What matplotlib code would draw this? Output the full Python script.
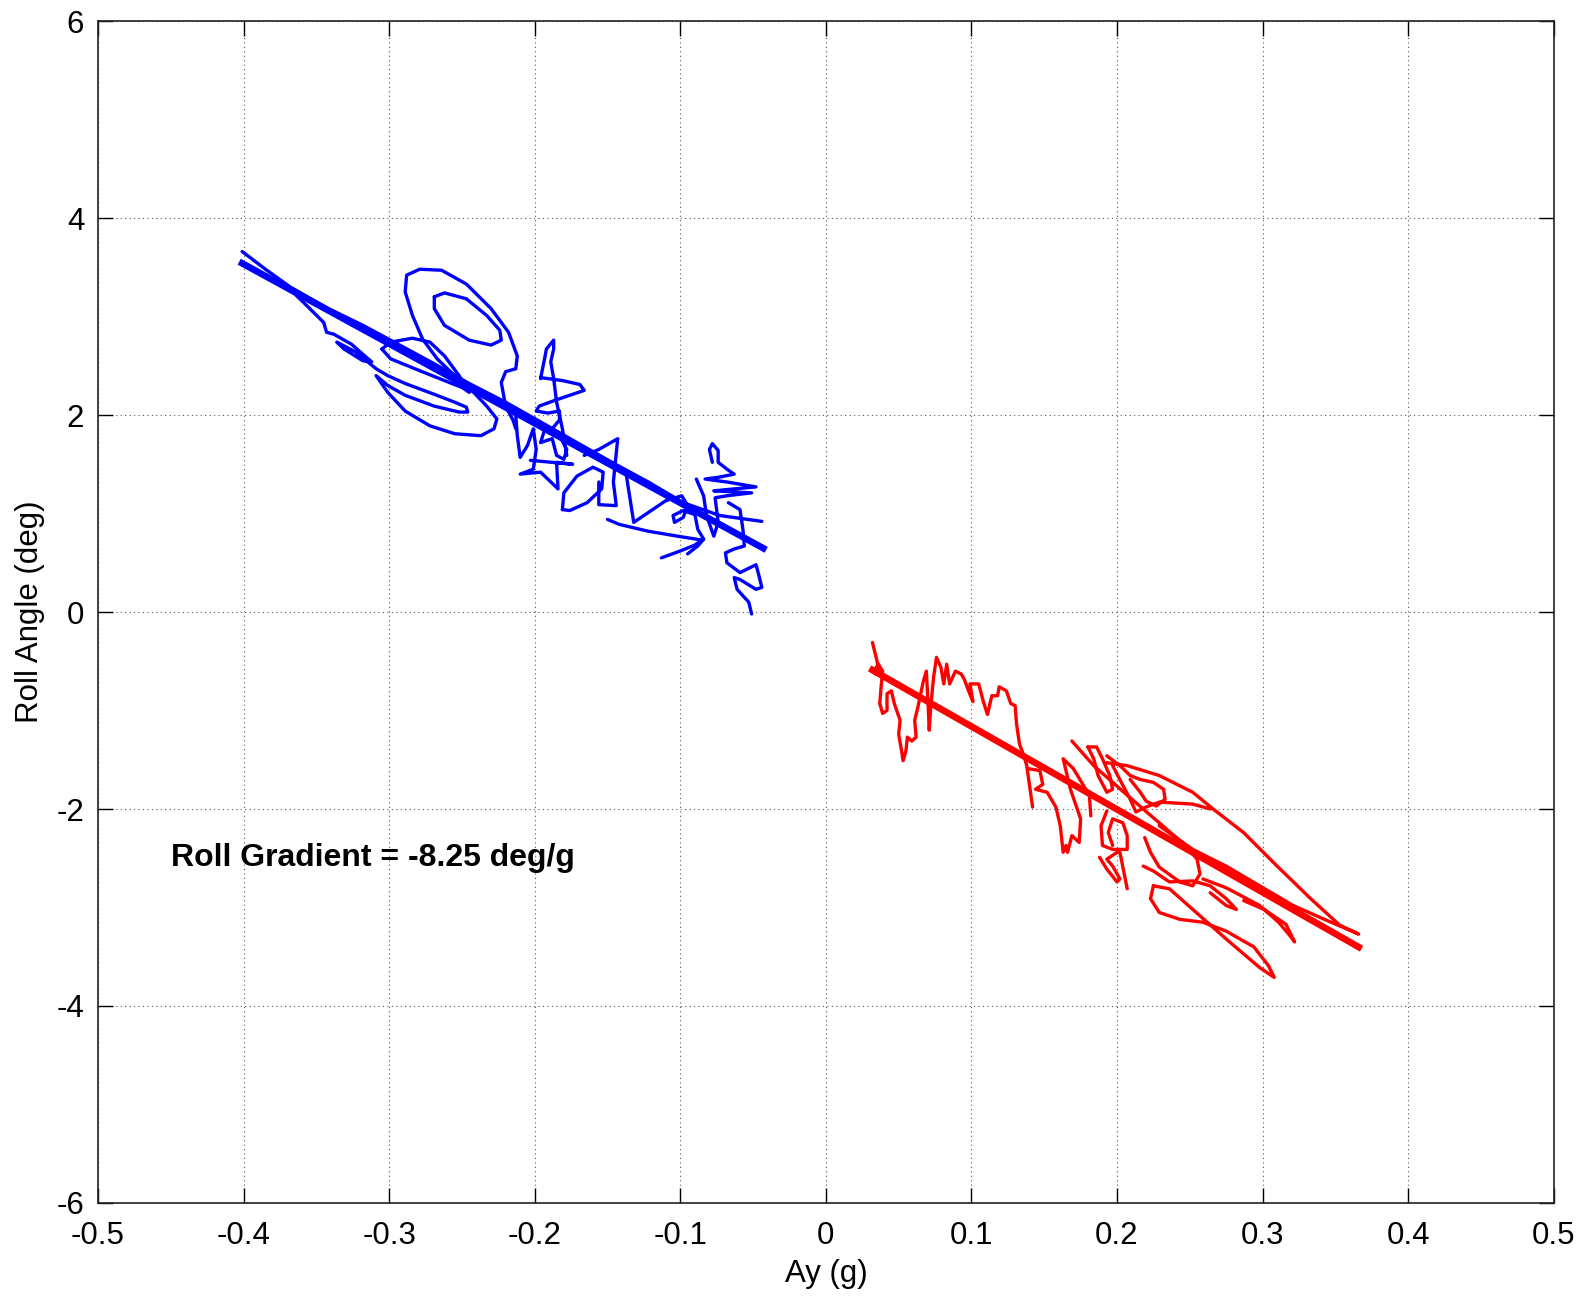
import numpy as np
import matplotlib
matplotlib.use("Agg")
import matplotlib.pyplot as plt

plt.rcParams['font.family'] = ['Liberation Sans', 'DejaVu Sans']
plt.rcParams['axes.unicode_minus'] = False

nan = np.nan

# left-turn trace (Ay in g, roll in deg), strokes split by nan
blue_ay = [
    -0.401, -0.385, -0.368, -0.343, -0.318, -0.294, -0.269, -0.245, -0.220, -0.196, -0.171, -0.147, -0.122, -0.098, -0.073, -0.044, nan,
    -0.372, -0.360, -0.345, -0.343, -0.338, -0.326, -0.316, -0.312, -0.318, -0.331, -0.336, -0.323, -0.309, -0.301, -0.289, -0.269,
    -0.255, -0.247, -0.246, -0.252, -0.269, -0.289, -0.301, -0.309, -0.301, -0.289, -0.272, -0.255, -0.237, -0.228, -0.226, -0.233,
    -0.242, -0.255, -0.267, -0.277, -0.284, -0.289, -0.288, -0.279, -0.264, -0.247, -0.230, -0.218, -0.212, -0.213, -0.220, -0.223,
    -0.220, -0.215, -0.213, nan,
    -0.269, -0.262, -0.247, -0.233, -0.224, -0.223, -0.230, -0.245, -0.262, -0.269, -0.269, nan,
    -0.305, -0.299, -0.284, -0.272, -0.262, -0.252, -0.245, -0.250, -0.257, -0.279, -0.299, -0.305, nan,
    -0.196, -0.193, -0.192, -0.187, -0.187, -0.189, -0.187, -0.185, -0.181, -0.178, nan,
    -0.196, -0.181, -0.169, -0.166, -0.174, -0.186, -0.197, -0.199, -0.191, -0.183, -0.183, -0.188, -0.193, -0.196, -0.188, -0.185,
    -0.180, -0.178, -0.183, nan,
    -0.213, -0.212, -0.210, -0.205, -0.201, -0.199, -0.201, -0.210, -0.196, -0.184, -0.185, -0.174, -0.203, nan,
    -0.181, -0.180, -0.171, -0.160, -0.153, -0.154, -0.164, -0.176, -0.181, nan,
    -0.156, -0.156, -0.144, -0.146, -0.143, -0.156, -0.166, nan,
    -0.150, -0.142, -0.122, -0.102, -0.085, -0.090, -0.100, -0.113, nan,
    -0.095, -0.088, -0.084, nan,
    -0.137, -0.132, -0.122, -0.110, -0.099, -0.095, -0.098, -0.104, -0.105, -0.098, -0.090, -0.088, -0.084, nan,
    -0.089, -0.084, -0.082, -0.077, -0.074, -0.076, nan,
    -0.078, -0.080, -0.078, -0.074, -0.074, -0.068, -0.063, -0.073, -0.083, -0.068, -0.048, -0.063, -0.077, -0.051, -0.068, -0.076, nan,
    -0.067, -0.059, -0.057, -0.056, -0.063, -0.069, -0.068, -0.059, -0.048, -0.046, -0.044, -0.048, -0.059, -0.063, -0.061, -0.053, -0.051,
]
blue_roll = [
    3.66, 3.48, 3.30, 3.09, 2.91, 2.72, 2.52, 2.32, 2.13, 1.93, 1.72, 1.52, 1.32, 1.11, 0.98, 0.92, nan,
    3.33, 3.16, 2.94, 2.84, 2.82, 2.72, 2.59, 2.54, 2.55, 2.67, 2.74, 2.64, 2.47, 2.40, 2.32, 2.21,
    2.13, 2.08, 2.03, 2.03, 2.09, 2.20, 2.30, 2.40, 2.23, 2.04, 1.89, 1.81, 1.79, 1.86, 1.96, 2.09,
    2.23, 2.40, 2.57, 2.77, 3.01, 3.25, 3.42, 3.48, 3.47, 3.33, 3.08, 2.84, 2.60, 2.47, 2.44, 2.33,
    2.09, 1.95, 1.86, nan,
    3.20, 3.24, 3.18, 3.01, 2.86, 2.76, 2.71, 2.76, 2.91, 3.08, 3.20, nan,
    2.67, 2.74, 2.78, 2.74, 2.60, 2.40, 2.23, 2.28, 2.32, 2.45, 2.57, 2.67, nan,
    2.37, 2.59, 2.67, 2.76, 2.67, 2.54, 2.37, 2.13, 1.86, 1.59, nan,
    2.38, 2.35, 2.31, 2.25, 2.21, 2.15, 2.09, 2.04, 2.02, 2.04, 1.95, 1.86, 1.86, 1.72, 1.76, 1.59,
    1.55, 1.65, 1.79, nan,
    1.99, 1.79, 1.57, 1.69, 1.86, 1.65, 1.45, 1.40, 1.42, 1.25, 1.52, 1.50, 1.54, nan,
    1.04, 1.21, 1.38, 1.47, 1.42, 1.25, 1.11, 1.03, 1.04, nan,
    1.32, 1.09, 1.08, 1.32, 1.76, 1.65, 1.59, nan,
    0.94, 0.89, 0.82, 0.77, 0.73, 0.68, 0.62, 0.55, nan,
    0.59, 0.67, 0.74, nan,
    1.38, 0.91, 1.01, 1.13, 1.18, 1.08, 0.96, 0.91, 0.98, 1.03, 0.99, 0.84, 0.74, nan,
    1.35, 1.18, 0.98, 0.77, 0.91, 1.15, nan,
    1.52, 1.65, 1.71, 1.64, 1.52, 1.45, 1.40, 1.37, 1.35, 1.32, 1.27, 1.25, 1.23, 1.21, 1.18, 1.16, nan,
    1.11, 1.04, 0.84, 0.67, 0.64, 0.60, 0.50, 0.40, 0.48, 0.37, 0.25, 0.23, 0.33, 0.35, 0.23, 0.10, -0.02,
]

# right-turn trace
red_ay = [
    0.032, 0.035, 0.037, 0.034, 0.033, 0.036, 0.039, 0.038, 0.037, 0.039, 0.042, 0.042, 0.045, 0.047, 0.051, 0.050,
    0.052, 0.053, 0.055, 0.056, 0.059, 0.062, 0.061, 0.063, 0.067, 0.069, 0.070, 0.071, 0.072, 0.074, 0.076, 0.079,
    0.081, 0.083, 0.085, 0.089, 0.093, 0.095, 0.098, 0.101, 0.099, 0.105, 0.108, 0.111, 0.114, 0.118, 0.119, 0.124,
    0.127, 0.130, 0.131, 0.133, 0.136, 0.138, 0.142, nan,
    0.139, 0.147, 0.149, 0.144, 0.152, 0.158, 0.161, 0.163, 0.165, 0.166, 0.169, 0.174, 0.175, 0.172, 0.168, 0.163,
    0.170, 0.181, 0.182, nan,
    0.169, 0.184, 0.207, 0.229, 0.250, nan,
    0.180, 0.186, 0.190, 0.195, 0.197, 0.193, 0.187, 0.184, 0.180, nan,
    0.193, 0.202, 0.209, 0.216, 0.225, 0.232, 0.233, 0.227, 0.220, 0.216, 0.209, nan,
    0.197, 0.204, 0.209, 0.213, 0.220, 0.229, 0.252, 0.264, nan,
    0.193, 0.207, 0.229, 0.252, 0.266, 0.287, 0.310, 0.333, 0.353, 0.366, 0.344, 0.321, 0.298, 0.275, 0.252, 0.229, nan,
    0.193, 0.189, 0.190, 0.197, 0.207, 0.207, 0.204, 0.197, 0.194, 0.197, nan,
    0.188, 0.193, 0.200, 0.202, 0.197, 0.193, 0.200, 0.202, 0.207, nan,
    0.219, 0.223, 0.229, 0.243, 0.252, 0.257, 0.255, 0.250, nan,
    0.218, 0.225, 0.236, 0.252, 0.264, 0.275, 0.282, 0.275, 0.264, nan,
    0.225, 0.223, 0.229, 0.243, 0.259, 0.275, 0.294, 0.304, 0.308, 0.298, 0.275, 0.252, 0.236, 0.225, nan,
    0.259, 0.275, 0.298, 0.311, 0.319, 0.322, 0.316, 0.301, 0.287,
]
red_roll = [
    -0.31, -0.49, -0.63, -0.63, -0.60, -0.53, -0.60, -0.75, -0.93, -1.03, -1.00, -0.83, -0.80, -0.93, -1.10, -1.24,
    -1.41, -1.51, -1.41, -1.27, -1.31, -1.27, -1.10, -0.98, -0.70, -0.60, -0.87, -1.20, -0.97, -0.66, -0.46, -0.56,
    -0.73, -0.53, -0.73, -0.60, -0.63, -0.68, -0.80, -0.91, -0.73, -0.73, -0.90, -1.04, -0.85, -0.85, -0.76, -0.80,
    -0.93, -0.95, -1.14, -1.34, -1.46, -1.56, -1.98, nan,
    -1.59, -1.61, -1.75, -1.80, -1.83, -1.98, -2.17, -2.44, -2.37, -2.44, -2.27, -2.34, -2.10, -1.97, -1.80, -1.49,
    -1.59, -1.86, -2.07, nan,
    -1.31, -1.56, -1.86, -2.14, -2.41, nan,
    -1.37, -1.37, -1.49, -1.66, -1.80, -1.83, -1.66, -1.49, -1.37, nan,
    -1.46, -1.56, -1.66, -1.70, -1.73, -1.80, -1.90, -1.97, -1.92, -1.83, -1.70, nan,
    -1.56, -1.76, -1.90, -2.03, -1.98, -1.93, -1.95, -2.00, nan,
    -1.53, -1.56, -1.66, -1.83, -2.00, -2.24, -2.58, -2.91, -3.18, -3.27, -3.13, -2.98, -2.78, -2.58, -2.41, -2.17, nan,
    -2.02, -2.17, -2.37, -2.41, -2.41, -2.27, -2.14, -2.10, -2.24, -2.37, nan,
    -2.49, -2.61, -2.74, -2.71, -2.58, -2.51, -2.44, -2.44, -2.81, nan,
    -2.29, -2.44, -2.59, -2.74, -2.78, -2.66, -2.51, -2.42, nan,
    -2.58, -2.63, -2.74, -2.73, -2.78, -2.91, -3.02, -2.98, -2.85, nan,
    -2.78, -2.91, -3.05, -3.12, -3.15, -3.24, -3.40, -3.59, -3.71, -3.61, -3.32, -3.02, -2.81, -2.78, nan,
    -2.71, -2.80, -2.98, -3.15, -3.29, -3.35, -3.17, -3.02, -2.93,
]

# linear fits
blue_fit_range = [-0.401, -0.043]
blue_fit_coef = [-8.08, 0.30]
red_fit_range = [0.032, 0.366]
red_fit_coef = [-8.42, -0.32]

x_ticks = [-0.5, -0.4, -0.3, -0.2, -0.1, 0, 0.1, 0.2, 0.3, 0.4, 0.5]
x_labels = ['-0.5', '-0.4', '-0.3', '-0.2', '-0.1', '0', '0.1', '0.2', '0.3', '0.4', '0.5']
y_ticks = [-6, -4, -2, 0, 2, 4, 6]

fig = plt.figure(figsize=(15.89, 12.98), dpi=100)
ax = fig.add_axes([0.0617, 0.0732, 0.9161, 0.9106])

ax.plot(blue_ay, blue_roll, color='#0000ff', lw=2.4, solid_joinstyle='round', solid_capstyle='round')
ax.plot(red_ay, red_roll, color='#ff0000', lw=2.4, solid_joinstyle='round', solid_capstyle='round')

bx = np.array(blue_fit_range)
ax.plot(bx, np.polyval(blue_fit_coef, bx), color='#0000ff', lw=4.8)
rx = np.array(red_fit_range)
ax.plot(rx, np.polyval(red_fit_coef, rx), color='#ff0000', lw=4.8)

ax.text(-0.45, -2.5, 'Roll Gradient = -8.25 deg/g', fontsize=23, fontweight='bold', va='center', ha='left')

ax.set_xlim(-0.5, 0.5)
ax.set_ylim(-6, 6)
ax.set_xticks(x_ticks)
ax.set_xticklabels(x_labels)
ax.set_yticks(y_ticks)
ax.grid(True, color='#555555', linestyle=(0, (1, 3)), lw=0.8)
ax.tick_params(direction='in', length=11, width=1, top=True, right=True, labelsize=22.5)
ax.tick_params(axis='x', pad=13)
ax.tick_params(axis='y', pad=10)
for s in ax.spines.values():
    s.set_linewidth(1.2)
    s.set_color('#222222')
ax.set_xlabel('Ay (g)', fontsize=22.5, labelpad=6)
ax.set_ylabel('Roll Angle (deg)', fontsize=22.5, labelpad=8)

fig.savefig('out.png', dpi=100)
